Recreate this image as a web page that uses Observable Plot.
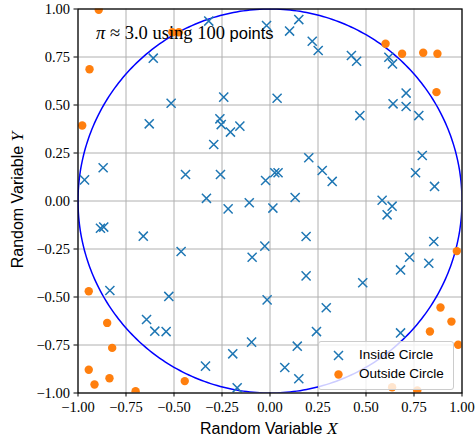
<!DOCTYPE html>
<html>
<head>
<meta charset="utf-8">
<script src="https://cdn.jsdelivr.net/npm/d3@7"></script>
<script src="https://cdn.jsdelivr.net/npm/@observablehq/plot@0.6"></script>
<style>
  html, body { margin: 0; padding: 0; background: #fff; }
  #wrap { position: relative; width: 475px; height: 441px; }
  .ov { position: absolute; white-space: nowrap; color: #000; }
  .serif { font-family: "Liberation Serif", "DejaVu Serif", serif; }
  .sans { font-family: "Liberation Sans", "DejaVu Sans", sans-serif; }
</style>
</head>
<body>
<div id="wrap"></div>
<script>
const insideX = [-0.319, -0.018, -0.608, -0.241, -0.515, -0.629, -0.261, -0.254, -0.206, -0.157,
  -0.293, -0.869, -0.966, -0.440, -0.258, -0.023, -0.331, 0.150, 0.102, 0.220,
  0.251, 0.424, 0.451, 0.619, 0.638, 0.709, 0.641, 0.709, 0.775, 0.037,
  0.468, 0.202, 0.793, 0.025, 0.042, 0.272, 0.324, 0.758, 0.857, 0.131,
  0.584, -0.218, -0.108, 0.015, -0.883, -0.866, -0.660, -0.463, -0.093, -0.027,
  -0.834, -0.527, -0.015, -0.643, -0.600, -0.541, -0.096, -0.194, -0.336, -0.171,
  0.636, 0.610, 0.188, 0.853, 0.727, 0.827, 0.680, 0.188, 0.483, 0.293,
  0.242, 0.680, 0.142, 0.077, 0.150];
const insideY = [0.937, 0.914, 0.744, 0.541, 0.509, 0.402, 0.428, 0.398, 0.359, 0.390,
  0.294, 0.173, 0.110, 0.138, 0.138, 0.107, 0.014, 0.945, 0.885, 0.832,
  0.784, 0.758, 0.728, 0.749, 0.714, 0.562, 0.506, 0.492, 0.445, 0.535,
  0.445, 0.225, 0.237, 0.147, 0.147, 0.159, 0.102, 0.147, 0.076, 0.018,
  0.004, -0.041, -0.009, -0.037, -0.142, -0.136, -0.183, -0.263, -0.293, -0.235,
  -0.466, -0.497, -0.515, -0.617, -0.678, -0.680, -0.735, -0.796, -0.860, -0.973,
  -0.027, -0.072, -0.185, -0.211, -0.293, -0.324, -0.359, -0.390, -0.426, -0.556,
  -0.680, -0.687, -0.756, -0.867, -0.926];
const outsideX = [-0.892, -0.940, -0.978, -0.509, -0.475, 0.602, 0.688, 0.798, 0.872, 0.867,
  -0.944, -0.848, -0.822, -0.944, -0.914, -0.836, -0.700, -0.444,
  0.973, 0.888, 0.945, 0.833, 0.980, 0.636, 0.767];
const outsideY = [0.996, 0.686, 0.393, 0.879, 0.879, 0.819, 0.767, 0.772, 0.767, 0.567,
  -0.470, -0.635, -0.765, -0.879, -0.956, -0.923, -0.991, -0.938,
  -0.261, -0.555, -0.628, -0.680, -0.749, -0.970, -0.987];
const tickValues = [-1, -0.75, -0.5, -0.25, 0, 0.25, 0.5, 0.75, 1];
const nPoints = 100;
const piEstimate = "3.0";
const legendLabels = ["Inside Circle", "Outside Circle"];
const xLabel = "Random Variable";
const yLabel = "Random Variable";

const inside = insideX.map((x, i) => ({x, y: insideY[i]}));
const outside = outsideX.map((x, i) => ({x, y: outsideY[i]}));
// unit circle outline
const circle = d3.range(0, 361).map(a => ({x: Math.cos(a * Math.PI / 180), y: Math.sin(a * Math.PI / 180)}));

const fmt = d3.format(".2f");
const plot = Plot.plot({
  width: 475,
  height: 441,
  marginLeft: 77.5,
  marginRight: 13.5,
  marginTop: 8.5,
  marginBottom: 48.5,
  style: {fontFamily: "'Liberation Serif', serif", fontSize: "14.5px", color: "#000", background: "#fff"},
  x: {domain: [-1, 1]},
  y: {domain: [-1, 1]},
  marks: [
    Plot.gridX(tickValues, {stroke: "#b0b0b0", strokeOpacity: 1, strokeWidth: 1}),
    Plot.gridY(tickValues, {stroke: "#b0b0b0", strokeOpacity: 1, strokeWidth: 1}),
    Plot.line(circle, {x: "x", y: "y", stroke: "#0000ff", strokeWidth: 1.5, clip: true}),
    Plot.dot(inside, {x: "x", y: "y", symbol: "times", r: 4.2, stroke: "#1f77b4", strokeWidth: 1.5, clip: true}),
    Plot.dot(outside, {x: "x", y: "y", r: 4.2, fill: "#ff7f0e", stroke: "none", clip: true}),
    Plot.frame({stroke: "#000", strokeWidth: 1.2}),
    Plot.axisX(tickValues, {tickSize: 4, tickPadding: 5, tickFormat: fmt, label: null, stroke: "#000"}),
    Plot.axisY(tickValues, {tickSize: 4, tickPadding: 4, tickFormat: fmt, label: null, stroke: "#000"})
  ]
});
const wrap = document.getElementById("wrap");
wrap.appendChild(plot);

function ov(html, cls, style) {
  const d = document.createElement("div");
  d.className = "ov " + cls;
  d.innerHTML = html;
  Object.assign(d.style, style);
  wrap.appendChild(d);
  return d;
}
// annotation
ov(`<i>π</i> ≈ ${piEstimate} using ${nPoints} <span class="sans" style="font-size:16.5px">points</span>`, "serif",
  {left: "96px", top: "23px", fontSize: "18.5px"});
// x label
ov(`${xLabel} <i class="serif" style="font-size:17.5px">X</i>`, "sans",
  {left: "200px", top: "418px", fontSize: "16px"});
// y label
ov(`${yLabel} <i class="serif" style="font-size:17.5px">Y</i>`, "sans",
  {left: "17px", top: "200px", fontSize: "16px", transform: "translate(-50%,-50%) rotate(-90deg)"});
// legend
const leg = ov(`
  <div style="display:flex;align-items:center;height:19px">
    <svg width="40" height="16"><path d="M15,4 L24,13 M24,4 L15,13" stroke="#1f77b4" stroke-width="1.5"/></svg>
    <span>${legendLabels[0]}</span></div>
  <div style="display:flex;align-items:center;height:19px">
    <svg width="40" height="16"><circle cx="19.5" cy="8.5" r="4.2" fill="#ff7f0e"/></svg>
    <span>${legendLabels[1]}</span></div>`, "sans",
  {left: "318px", top: "341px", width: "134px", height: "44px", padding: "3px 0 0 0",
   background: "rgba(255,255,255,0.8)", border: "1px solid #cccccc", borderRadius: "3px", fontSize: "13.5px", boxSizing: "content-box"});
</script>
</body>
</html>
